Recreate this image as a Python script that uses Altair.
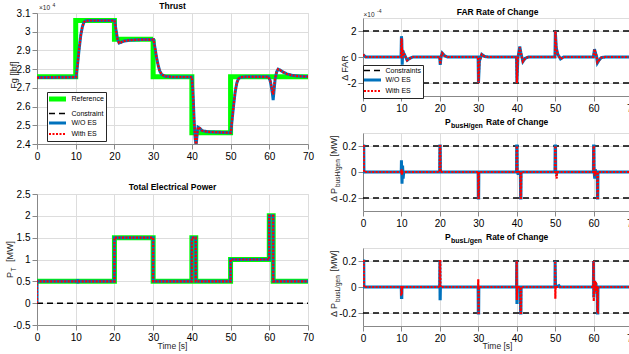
import altair as alt
import pandas as pd

FONT = "Liberation Sans"
INK = "#262626"

# ---------------- data ----------------
time_ticks = [0, 10, 20, 30, 40, 50, 60, 70]

# Thrust (x1e4 lbf)
thrust_ref_t = [0, 10, 10, 20, 20, 30, 30, 40, 40, 50, 50, 70]
thrust_ref_v = [2.76, 2.76, 3.06, 3.06, 2.96, 2.96, 2.76, 2.76, 2.46, 2.46, 2.76, 2.76]
thrust_woes_t = [0, 10.1, 10.5, 10.9, 11.3, 11.7, 12.1, 12.5, 13.5, 20.05,
                 20.4, 20.8, 21.2, 21.7, 22.5, 24, 27, 30.1, 30.5, 30.9,
                 31.3, 31.7, 32.2, 33, 35, 40.0, 40.2, 40.4, 40.6, 40.85,
                 41.1, 41.35, 41.6, 42.0, 42.6, 44, 50.05, 50.4, 50.8, 51.2,
                 51.6, 52.0, 52.6, 54, 59.8, 60.2, 60.5, 60.8, 61.0, 61.2,
                 61.5, 61.9, 62.3, 62.8, 63.5, 64.5, 66, 68, 70]
thrust_woes_v = [2.755, 2.757, 2.83, 2.91, 2.98, 3.025, 3.05, 3.058, 3.06, 3.06,
                 3.01, 2.96, 2.94, 2.943, 2.95, 2.955, 2.958, 2.958, 2.91, 2.86,
                 2.82, 2.79, 2.772, 2.762, 2.758, 2.758, 2.70, 2.62, 2.52, 2.43,
                 2.39, 2.45, 2.49, 2.485, 2.472, 2.465, 2.46, 2.53, 2.61, 2.68,
                 2.725, 2.748, 2.757, 2.759, 2.759, 2.74, 2.71, 2.67, 2.635, 2.68,
                 2.745, 2.785, 2.80, 2.795, 2.785, 2.775, 2.766, 2.762, 2.76]
thrust_es_t = thrust_woes_t
thrust_es_v = [2.755, 2.757, 2.83, 2.91, 2.98, 3.025, 3.05, 3.058, 3.06, 3.06,
               3.01, 2.96, 2.94, 2.943, 2.95, 2.955, 2.958, 2.958, 2.91, 2.86,
               2.82, 2.79, 2.772, 2.762, 2.758, 2.758, 2.70, 2.62, 2.52, 2.43,
               2.39, 2.45, 2.49, 2.485, 2.472, 2.465, 2.46, 2.53, 2.61, 2.68,
               2.725, 2.748, 2.757, 2.759, 2.759, 2.74, 2.715, 2.68, 2.665, 2.70,
               2.75, 2.785, 2.80, 2.795, 2.785, 2.775, 2.766, 2.762, 2.76]

# Total electrical power (MW)
power_ref_t = [0, 20, 20, 30, 30, 40, 40, 41, 41, 50, 50, 60, 60, 61, 61, 70]
power_ref_v = [0.5, 0.5, 1.5, 1.5, 0.5, 0.5, 1.5, 1.5, 0.5, 0.5, 1.0, 1.0, 2.0, 2.0, 0.5, 0.5]
power_con_t = [0, 70]
power_con_v = [0, 0]
power_woes_t = [0, 0, 10.5, 10.5, 10.55, 10.55, 20, 20, 30, 30, 40, 40, 41, 41, 50, 50, 60, 60, 61, 61, 70]
power_woes_v = [0, 0.5, 0.5, 0.55, 0.45, 0.5, 0.5, 1.5, 1.5, 0.5, 0.5, 1.5, 1.5, 0.5, 0.5, 1.0, 1.0, 2.0, 2.0, 0.5, 0.5]
power_es_t = [0, 0, 20, 20, 30, 30, 40, 40, 41, 41, 50, 50, 60, 60, 61, 61, 70]
power_es_v = [0, 0.5, 0.5, 1.5, 1.5, 0.5, 0.5, 1.5, 1.5, 0.5, 0.5, 1.0, 1.0, 2.0, 2.0, 0.5, 0.5]

# FAR rate of change (x1e-4)
far_con_upper = [2, 2]
far_con_lower = [-2, -2]
far_woes_t = [0, 0.3, 0.7, 9.9, 10.0, 10.1, 10.2, 10.35, 10.6, 11.0,
              11.5, 12.2, 13, 19.95, 20.1, 20.3, 20.6, 21.2, 22, 29.95,
              30.05, 30.3, 30.9, 31.6, 32.5, 39.95, 40.05, 40.3, 40.8, 41.1,
              41.6, 42.2, 43, 49.95, 50.05, 50.3, 50.7, 51.4, 52.2, 59.95,
              60.25, 60.5, 60.75, 61.0, 61.4, 62, 63, 70]
far_woes_v = [0.2, 0.1, 0, 0, 1.6, 1.3, -0.6, 0.5, 0.3, 0.05,
              -0.25, -0.1, 0, 0, -0.6, 0.0, 0.3, 0.1, 0, 0,
              -2.0, -0.3, 0.2, 0.05, 0, 0, -2.0, -0.1, 0.8, 0.3,
              -0.35, -0.1, 0, 0, 2.0, 0.7, 0.2, -0.15, 0, 0,
              0.6, 0.3, 0.1, -0.45, -0.25, -0.05, 0, 0]
far_es_t = far_woes_t
far_es_v = [0.2, 0.1, 0, 0, 1.45, 1.2, -0.1, 0.45, 0.3, 0.05,
            -0.25, -0.1, 0, 0, -0.55, 0.0, 0.3, 0.1, 0, 0,
            -2.0, -0.3, 0.2, 0.05, 0, 0, -2.0, -0.1, 0.75, 0.3,
            -0.35, -0.1, 0, 0, 2.0, 0.7, 0.2, -0.15, 0, 0,
            0.6, 0.3, 0.1, -0.4, -0.25, -0.05, 0, 0]

# P_busH/gen rate of change (MW)
pbh_woes_t = [0, 0.2, 0.25, 9.95, 10.0, 10.15, 10.3, 10.45, 10.6, 19.95,
              20.0, 20.1, 20.15, 29.95, 30.0, 30.1, 30.15, 39.95, 40.0, 40.1,
              40.15, 40.4, 40.5, 40.95, 41.0, 41.1, 41.15, 49.95, 50.0, 50.1,
              50.15, 50.4, 50.5, 59.95, 60.0, 60.1, 60.15, 60.3, 60.45, 60.6,
              60.95, 61.0, 61.1, 61.15, 70]
pbh_woes_v = [0.2, 0.2, 0, 0, 0.09, -0.09, 0.05, -0.05, 0, 0,
              0.2, 0.2, 0, 0, -0.2, -0.2, 0, 0, 0.2, 0.2,
              0, -0.02, 0, 0, -0.2, -0.2, 0, 0, 0.2, 0.2,
              0, -0.01, 0, 0, 0.2, 0.2, 0, -0.05, 0.02, 0,
              0, -0.2, -0.2, 0, 0]
pbh_es_t = pbh_woes_t
pbh_es_v = [0.2, 0.2, 0, 0, 0.02, -0.02, 0, 0, 0, 0,
            0.2, 0.2, 0, 0, -0.2, -0.2, 0, 0, 0.2, 0.2,
            0, -0.01, 0, 0, -0.2, -0.2, 0, 0, 0.2, 0.2,
            0, -0.05, 0, 0, 0.2, 0.2, 0, -0.03, 0.01, 0,
            0, -0.2, -0.2, 0, 0]

# P_busL/gen rate of change (MW)
pbl_woes_t = [0, 0.2, 0.25, 9.95, 10.0, 10.1, 10.15, 19.95, 20.0, 20.05,
              20.1, 20.15, 29.95, 30.0, 30.1, 30.15, 39.95, 40.0, 40.05, 40.1,
              40.15, 40.95, 41.0, 41.1, 41.15, 49.95, 50.0, 50.1, 50.2, 51.0,
              51.2, 59.95, 60.0, 60.05, 60.1, 60.4, 60.5, 60.6, 60.7, 60.95,
              61.0, 61.1, 61.15, 70]
pbl_woes_v = [0.2, 0.2, 0, 0, -0.08, -0.08, 0, 0, 0.2, -0.09,
              -0.09, 0, 0, -0.2, -0.2, 0, 0, 0.2, -0.12, -0.12,
              0, 0, -0.2, -0.2, 0, 0, 0.2, 0.0, 0, 0.01,
              0, 0, 0.2, -0.08, 0, 0.04, -0.04, 0.03, 0, 0,
              -0.2, -0.2, 0, 0]
pbl_es_t = [0, 0.2, 0.25, 9.95, 10.0, 10.1, 10.15, 19.95, 20.0, 20.1,
            20.15, 29.95, 30.0, 30.05, 30.1, 30.15, 39.95, 40.0, 40.05, 40.1,
            40.95, 41.0, 41.1, 41.15, 49.95, 50.0, 50.05, 50.1, 59.95, 60.0,
            60.05, 60.1, 60.4, 60.5, 60.6, 60.7, 60.8, 60.95, 61.0, 61.1,
            61.15, 70]
pbl_es_v = [0.2, 0.2, 0, 0, -0.06, -0.06, 0, 0, 0.2, 0.2,
            0, 0, 0.06, -0.2, -0.2, 0, 0, 0.2, -0.1, 0,
            0, -0.2, -0.2, 0, 0, 0.2, -0.09, 0, 0, 0.2,
            -0.11, 0, 0.05, -0.05, 0.04, -0.03, 0, 0, -0.2, -0.2,
            0, 0]

# ---------------- styles ----------------
COLORS = {"Reference": "#00FF00", "Constraint": "#000000", "Constraints": "#000000",
          "W/O ES": "#0072BD", "With ES": "#FF0000"}
DASHES = {"Reference": [1, 0], "Constraint": [6, 4], "Constraints": [6, 4],
          "W/O ES": [1, 0], "With ES": [2, 1.5]}
WIDTHS = {"Reference": 5, "Constraint": 1.5, "Constraints": 1.5,
          "W/O ES": 3, "With ES": 2.2}


def frame(name, t, v, key=0):
    return pd.DataFrame({"t": t, "v": v, "s": name, "k": key, "i": list(range(len(t)))})


def label(text, x, y, size=8.5, weight="normal", align="left", angle=0, color="#000000"):
    return alt.Chart(pd.DataFrame({"txt": [text]})).mark_text(
        align=align, baseline="alphabetic", angle=angle, fontSize=size,
        fontWeight=weight, font=FONT, color=color
    ).encode(x=alt.value(x), y=alt.value(y), text="txt:N")


def panel(frames, names, ydom, yvals, yfmt, w, h, legend, texts):
    cs = alt.Scale(domain=names, range=[COLORS[n] for n in names])
    ds = alt.Scale(domain=names, range=[DASHES[n] for n in names])
    ws = alt.Scale(type="ordinal", domain=names, range=[WIDTHS[n] for n in names])
    xax = alt.Axis(values=time_ticks, format="d", title=None, labelFlush=False)
    yax = alt.Axis(values=yvals, title=None, labelFlush=False,
                   labelExpr="replace(format(datum.value, '%s'), '\u2212', '-')" % yfmt)
    layers = []
    for df in frames:
        layers.append(
            alt.Chart(df).mark_line(clip=True, strokeCap="butt").encode(
                x=alt.X("t:Q", scale=alt.Scale(domain=[0, 70], nice=False, zero=False), axis=xax),
                y=alt.Y("v:Q", scale=alt.Scale(domain=ydom, nice=False, zero=False), axis=yax),
                color=alt.Color("s:N", scale=cs, legend=legend),
                strokeDash=alt.StrokeDash("s:N", scale=ds, legend=legend),
                strokeWidth=alt.StrokeWidth("s:N", scale=ws, legend=legend),
                detail="k:N",
                order="i:Q",
            )
        )
    return alt.layer(*layers, *texts).properties(width=w, height=h)


def make_legend(x, y):
    return alt.Legend(orient="none", legendX=x, legendY=y, title=None, columns=1,
                      symbolType="M-3.4,0H3.4", symbolSize=25, symbolOffset=3.5,
                      fillColor="white", strokeColor="#262626", padding=2,
                      labelFont=FONT, labelFontSize=7, labelColor="#000000",
                      rowPadding=0, labelOffset=9)


def spacer(w, h):
    return alt.Chart(pd.DataFrame({"t": [0]})).mark_point(opacity=0).encode(
        x=alt.X("t:Q", axis=None), y=alt.Y("t:Q", axis=None)
    ).properties(width=w, height=h, view=alt.ViewBackground(stroke="transparent"))


LW, LH = 271, 131
RW, RH = 269, 78
NAMES_L = ["Reference", "Constraint", "W/O ES", "With ES"]
NAMES_R = ["Constraints", "W/O ES", "With ES"]

thrust = panel(
    [frame("Reference", thrust_ref_t, thrust_ref_v),
     frame("W/O ES", thrust_woes_t, thrust_woes_v),
     frame("With ES", thrust_es_t, thrust_es_v)],
    NAMES_L, [2.4, 3.1], [2.4, 2.5, 2.6, 2.7, 2.8, 2.9, 3.0, 3.1], ".1~f", LW, LH,
    make_legend(10, 79),
    [label("Thrust", LW / 2, -4, 8.5, "bold", "center"),
     label("\u00d710", 2, -3, 6.5, color=INK),
     label("4", 15.5, -6.5, 5, color=INK),
     label("Fg  [lbf]", -20, 62, 9, align="center", angle=270, color=INK)])

power = panel(
    [frame("Reference", power_ref_t, power_ref_v),
     frame("Constraint", power_con_t, power_con_v),
     frame("W/O ES", power_woes_t, power_woes_v),
     frame("With ES", power_es_t, power_es_v)],
    NAMES_L, [-0.5, 2.5], [-0.5, 0, 0.5, 1, 1.5, 2, 2.5], ".1~f", LW, LH,
    None,
    [label("Total Electrical Power", LW / 2, -4, 8.5, "bold", "center"),
     label("P", -24, 84, 9, angle=270, color=INK),
     label("T", -21.5, 77.5, 6.5, angle=270, color=INK),
     label("[MW]", -24, 68, 9, angle=270, color=INK),
     label("Time [s]", LW / 2, 155, 8.5, align="center", color=INK)])

far = panel(
    [frame("Constraints", [0, 70], far_con_upper, 0),
     frame("Constraints", [0, 70], far_con_lower, 1),
     frame("W/O ES", far_woes_t, far_woes_v),
     frame("With ES", far_es_t, far_es_v)],
    NAMES_R, [-3, 3], [-2, 0, 2], ".0f", RW, RH,
    make_legend(0, 47),
    [label("FAR Rate of Change", RW / 2, -3, 8.5, "bold", "center"),
     label("\u00d710", 0.5, -1.5, 6.5, color=INK),
     label("-4", 14, -5, 5, color=INK),
     label("\u0394 FAR", -15, 50, 9, align="center", angle=270, color=INK)])


def rate_panel(woes_t, woes_v, es_t, es_v, sub, texts):
    return panel(
        [frame("Constraints", [0, 70], [0.2, 0.2], 0),
         frame("Constraints", [0, 70], [-0.2, -0.2], 1),
         frame("W/O ES", woes_t, woes_v),
         frame("With ES", es_t, es_v)],
        NAMES_R, [-0.3, 0.3], [-0.2, 0, 0.2], ".1~f", RW, RH, None,
        [label("P", 82, -8, 8.5, "bold"),
         label(sub, 88, -5.5, 7, "bold"),
         label("Rate of Change", 123, -8, 8.5, "bold"),
         label("\u0394 P", -26, 69, 9, angle=270, color=INK),
         label(sub, -23.5, 54, 6.5, angle=270, color=INK),
         label("[MW]", -26, 23.5, 9, angle=270, color=INK)] + texts)


pbh = rate_panel(pbh_woes_t, pbh_woes_v, pbh_es_t, pbh_es_v, "busH/gen", [])
pbl = rate_panel(pbl_woes_t, pbl_woes_v, pbl_es_t, pbl_es_v, "busL/gen",
                 [label("Time [s]", RW / 2, 101, 8.5, align="center", color=INK)])

indep = dict(color="independent", strokeDash="independent", strokeWidth="independent")

# spacers at the top of each column set the 5 px offset between the columns
left = alt.vconcat(spacer(LW, 1), thrust, power, spacing=50, bounds="flush").resolve_scale(**indep)
right = alt.vconcat(spacer(RW, 19), far, pbh, pbl, spacing=37, bounds="flush").resolve_scale(**indep)

chart = alt.hconcat(left, right, spacing=14).resolve_scale(**indep).properties(
    autosize=alt.AutoSizeParams(type="none"),
    padding={"left": 37, "top": -38, "right": 592, "bottom": 392}
).configure_view(stroke=INK, strokeWidth=1).configure_axis(
    labelFont=FONT, labelFontSize=7, labelColor=INK, domain=False, ticks=False,
    labelPadding=3, labelFlush=False, gridColor="#dcdcdc", gridWidth=1
).configure(background="white")

chart.save("out.html", embed_options={"renderer": "svg", "actions": False})
